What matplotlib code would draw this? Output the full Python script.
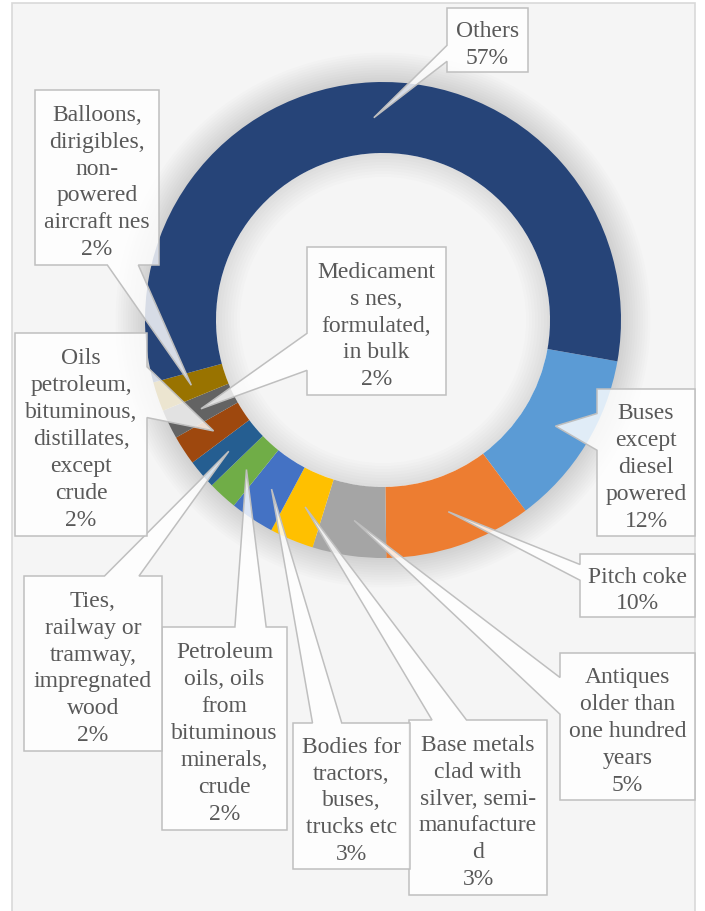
import numpy as np
import matplotlib.pyplot as plt
from matplotlib.patches import Polygon, Rectangle, Wedge

# 資料
labels = ["Buses\nexcept\ndiesel\npowered", "Pitch coke",
          "Antiques\nolder than\none hundred\nyears",
          "Base metals\nclad with\nsilver, semi-\nmanufacture\nd",
          "Bodies for\ntractors,\nbuses,\ntrucks etc",
          "Petroleum\noils, oils\nfrom\nbituminous\nminerals,\ncrude",
          "Ties,\nrailway or\ntramway,\nimpregnated\nwood",
          "Oils\npetroleum,\nbituminous,\ndistillates,\nexcept\ncrude",
          "Medicament\ns nes,\nformulated,\nin bulk",
          "Balloons,\ndirigibles,\nnon-\npowered\naircraft nes",
          "Others"]
shares = [12, 10, 5, 3, 3, 2, 2, 2, 2, 2, 57]
colors = ['#5B9BD5', '#ED7D31', '#A5A5A5', '#FFC000', '#4472C4', '#70AD47',
          '#255E91', '#9E480E', '#636363', '#997300', '#264478']

# 標籤框位置 (像素, 左上 -> 右下)
label_boxes = [(597, 389, 695, 536), (580, 554, 695, 617), (560, 653, 695, 800),
               (409, 720, 547, 895), (293, 723, 410, 869), (162, 627, 287, 830),
               (24, 576, 162, 751), (15, 333, 147, 536), (307, 247, 446, 395),
               (35, 90, 159, 265), (447, 8, 528, 72)]

W, H = 705, 911
cx, cy = 383, H - 320
R, ring = 238, 71


def callout(box, tip):
    # Excel wedgeRectCallout, 像素座標 (y 向下)
    l, t, r, b = box
    w, h = r - l, b - t
    hc, vc = (l + r) / 2, (t + b) / 2
    dx, dy = tip[0] - hc, tip[1] - vc
    dq = dx * h / w
    g = (7, 10) if dx > 0 else (2, 5)
    gy = (7, 10) if dy > 0 else (2, 5)
    x1, x2 = l + w * g[0] / 12, l + w * g[1] / 12
    y1, y2 = t + h * gy[0] / 12, t + h * gy[1] / 12
    pts = [(l, t)]
    if abs(dy) > abs(dq) and dy < 0:
        pts += [(x1, t), tip, (x2, t)]
    pts.append((r, t))
    if abs(dy) <= abs(dq) and dx > 0:
        pts += [(r, y1), tip, (r, y2)]
    pts.append((r, b))
    if abs(dy) > abs(dq) and dy > 0:
        pts += [(x2, b), tip, (x1, b)]
    pts.append((l, b))
    if abs(dy) <= abs(dq) and dx < 0:
        pts += [(l, y2), tip, (l, y1)]
    return [(x, H - y) for x, y in pts]


fig = plt.figure(figsize=(W / 100, H / 100), dpi=100)
ax = fig.add_axes([0, 0, 1, 1])

# 背景與外框
ax.add_patch(Rectangle((12, -10), 683, H - 3 + 10, facecolor='#f5f5f5',
                       edgecolor='#d9d9d9', linewidth=1.2, zorder=0))

# 陰影
for k in range(12):
    ax.add_patch(Wedge((cx, cy), R + 2 + k * 2.5, 0, 360, width=12 + k * 2.5,
                       facecolor='black', edgecolor='none', alpha=0.012, zorder=1))
for k in range(8):
    ax.add_patch(Wedge((cx, cy), R - ring, 0, 360, width=3 + k * 3,
                       facecolor='black', edgecolor='none', alpha=0.01, zorder=1))

wedges, _ = ax.pie(shares, colors=colors, startangle=-10, counterclock=False,
                   center=(cx, cy), radius=R,
                   wedgeprops=dict(width=ring, edgecolor='none'))
for wd in wedges:
    wd.set_zorder(2)

for wd, lab, v, box in zip(wedges, labels, shares, label_boxes):
    mid = np.deg2rad((wd.theta1 + wd.theta2) / 2)
    rt = R - ring / 2
    tip = (cx + rt * np.cos(mid), H - (cy + rt * np.sin(mid)))
    ax.add_patch(Polygon(callout(box, tip), closed=True, facecolor=(1, 1, 1, 0.82),
                         edgecolor='#bfbfbf', linewidth=1.1, zorder=3))
    ax.text((box[0] + box[2]) / 2, H - (box[1] + box[3]) / 2 - 5, f"{lab}\n{v}%",
            ha='center', va='center', multialignment='center',
            fontfamily='Liberation Serif', fontsize=17, color='#595959',
            linespacing=1.37, zorder=4)

ax.set_xlim(0, W)
ax.set_ylim(0, H)
ax.set_aspect('equal')
ax.axis('off')
fig.savefig('out.png', dpi=100, facecolor='white')
